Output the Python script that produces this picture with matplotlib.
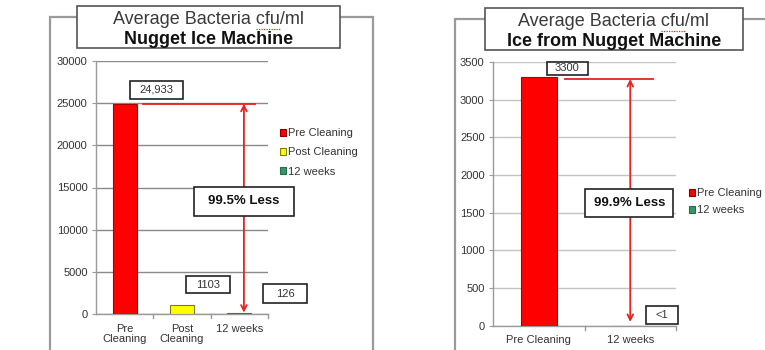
import matplotlib
matplotlib.use("Agg")
import matplotlib.pyplot as plt
from matplotlib.patches import Rectangle, Patch

plt.rcParams['font.family'] = ['Liberation Sans', 'DejaVu Sans']

# Nugget ice machine (left panel)
machine_categories = ["Pre\nCleaning", "Post\nCleaning", "12 weeks"]
machine_series = ["Pre Cleaning", "Post Cleaning", "12 weeks"]
machine_values = [24933, 1103, 126]
machine_labels = ["24,933", "1103", "126"]
machine_yticks = [0, 5000, 10000, 15000, 20000, 25000, 30000]
machine_reduction = "99.5% Less"

# Ice from nugget machine (right panel)
ice_categories = ["Pre Cleaning", "12 weeks"]
ice_series = ["Pre Cleaning", "12 weeks"]
ice_values = [3300, 0.5]
ice_labels = ["3300", "<1"]
ice_yticks = [0, 500, 1000, 1500, 2000, 2500, 3000, 3500]
ice_reduction = "99.9% Less"

RED = "#FF0000"
YELLOW = "#FFFF00"
GREEN = "#339966"
ARROW = "#E8221E"
TXT = "#333333"

W, H = 765, 350
fig = plt.figure(figsize=(W / 100, H / 100), dpi=100)
renderer = fig.canvas.get_renderer()


def px_rect(x0, y0, x1, y1):
    """Pixel box (top-left origin) -> figure fraction rect."""
    return [x0 / W, 1 - y1 / H, (x1 - x0) / W, (y1 - y0) / H]


def frame(x0, y0, x1, y1):
    fig.patches.append(Rectangle((x0 / W, 1 - y1 / H), (x1 - x0) / W, (y1 - y0) / H,
                                 transform=fig.transFigure, fill=False,
                                 edgecolor="#9a9a9a", linewidth=1.6, clip_on=False))


def title_box(x0, y0, x1, y1, line2):
    fig.patches.append(Rectangle((x0 / W, 1 - y1 / H), (x1 - x0) / W, (y1 - y0) / H,
                                 transform=fig.transFigure, facecolor="white",
                                 edgecolor="#555555", linewidth=1.2, zorder=3))
    cx = (x0 + x1) / 2
    line1 = "Average Bacteria cfu/ml"
    t1 = fig.text(cx / W, 1 - (y0 + 14) / H, line1, ha="center", va="center",
                  fontsize=13, color="#3a3a3a", zorder=4)
    fig.text(cx / W, 1 - (y0 + 33) / H, line2, ha="center", va="center",
             fontsize=13, fontweight="bold", color="#111111", zorder=4)
    # spell-check squiggle under "cfu"
    full = t1.get_window_extent(renderer)
    pre = fig.text(0, 0, "Average Bacteria ", fontsize=13)
    cfu = fig.text(0, 0, "cfu", fontsize=13)
    wpre = pre.get_window_extent(renderer).width
    wcfu = cfu.get_window_extent(renderer).width
    pre.remove()
    cfu.remove()
    sx0 = full.x0 + wpre
    sy = full.y0
    fig.lines.append(plt.Line2D([sx0 / W, (sx0 + wcfu) / W], [sy / H, sy / H],
                                transform=fig.transFigure, color="#dd3333",
                                linewidth=0.9, linestyle=(0, (1, 1)), zorder=5))


def style_axes(ax, ticks, grid_color):
    ax.set_yticks(ticks)
    ax.set_ylim(ticks[0], ticks[-1])
    ax.yaxis.grid(True, color=grid_color, linewidth=1.0)
    ax.set_axisbelow(True)
    for s in ("top", "right"):
        ax.spines[s].set_visible(False)
    for s in ("left", "bottom"):
        ax.spines[s].set_color("#9a9a9a")
        ax.spines[s].set_linewidth(1.0)
    ax.tick_params(axis="y", labelsize=8, colors=TXT, length=3, color="#9a9a9a", pad=3)
    ax.tick_params(axis="x", labelsize=8, colors=TXT, length=0, pad=7)


def box_label(ax, x, y, s, w, h, bold=False, size=8):
    """Boxed text centred on data point (x, y); box size given in pixels."""
    cx, cy = ax.transData.transform((x, y))
    fig.patches.append(Rectangle(((cx - w / 2) / W, (cy - h / 2) / H), w / W, h / H,
                                 transform=fig.transFigure, facecolor="white",
                                 edgecolor="#222222", linewidth=1.2, zorder=6))
    fig.text(cx / W, cy / H, s, ha="center", va="center", fontsize=size,
             color="#111111" if bold else TXT, fontweight="bold" if bold else "normal", zorder=7)


def reduction_arrow(ax, x, x0, x1, top, bottom):
    ax.plot([x0, x1], [top, top], color=ARROW, linewidth=1.3, zorder=5, clip_on=False)
    ax.annotate("", xy=(x, top), xytext=(x, bottom),
                arrowprops=dict(arrowstyle="<->", color=ARROW, linewidth=1.3,
                                mutation_scale=10, shrinkA=0, shrinkB=0), zorder=5)


# ---------------- left panel ----------------
frame(50, 17, 373, 360)
axL = fig.add_axes(px_rect(96, 61, 268, 314))
xs = range(len(machine_values))
axL.bar(xs, machine_values, width=0.42, color=[RED, YELLOW, GREEN],
        edgecolor=["#AA0000", "#808000", "#556655"], linewidth=0.8, zorder=3)
axL.set_xlim(-0.5, 2.5)
axL.set_xticks(list(xs))
axL.set_xticklabels(machine_categories, linespacing=1.05)
style_axes(axL, machine_yticks, "#8a8a8a")
for b in (0.5, 1.5, 2.5):
    axL.plot([b, b], [0, -500], color="#9a9a9a", linewidth=1, clip_on=False)

reduction_arrow(axL, 2.08, 0.32, 2.27, machine_values[0], 160)
box_label(axL, 0.56, machine_values[0] + 1650, machine_labels[0], 53, 18)
box_label(axL, 1.46, machine_values[1] + 2350, machine_labels[1], 44, 17)
box_label(axL, 2.80, machine_values[2] + 2300, machine_labels[2], 44, 19)
box_label(axL, 2.08, 13340, machine_reduction, 100, 29, bold=True, size=9.5)

handlesL = [Patch(facecolor=c, edgecolor=e, linewidth=0.8) for c, e in
            zip([RED, YELLOW, GREEN], ["#880000", "#808000", "#2a6a4a"])]
axL.legend(handlesL, machine_series, loc="upper left", bbox_to_anchor=(280 / W, 1 - 128 / H),
           bbox_transform=fig.transFigure, frameon=False, fontsize=8, handlelength=0.5,
           handleheight=0.6, handletextpad=0.25, labelspacing=0.85, borderaxespad=0,
           borderpad=0, labelcolor=TXT)

title_box(77, 6, 340, 48, "Nugget Ice Machine")

# ---------------- right panel ----------------
frame(455, 19, 800, 360)
axR = fig.add_axes(px_rect(493, 62, 676, 325.7))
xr = range(len(ice_values))
axR.bar(xr, ice_values, width=0.39, color=[RED, GREEN], edgecolor=["#AA0000", "#556655"],
        linewidth=0.8, zorder=3)
axR.set_xlim(-0.5, 1.5)
axR.set_xticks(list(xr))
axR.set_xticklabels(ice_categories)
style_axes(axR, ice_yticks, "#c4c4c4")
for b in (0.5, 1.5):
    axR.plot([b, b], [0, -60], color="#9a9a9a", linewidth=1, clip_on=False)

reduction_arrow(axR, 1.0, 0.29, 1.25, 3274, 50)
box_label(axR, 0.31, ice_values[0] + 115, ice_labels[0], 41, 13)
box_label(axR, 1.35, 142, ice_labels[1], 32, 18)
box_label(axR, 0.99, 1628, ice_reduction, 88, 28, bold=True, size=9.5)

handlesR = [Patch(facecolor=c, edgecolor=e, linewidth=0.8) for c, e in
            zip([RED, GREEN], ["#880000", "#2a6a4a"])]
axR.legend(handlesR, ice_series, loc="upper left", bbox_to_anchor=(689 / W, 1 - 188 / H),
           bbox_transform=fig.transFigure, frameon=False, fontsize=8, handlelength=0.5,
           handleheight=0.6, handletextpad=0.25, labelspacing=0.65, borderaxespad=0,
           borderpad=0, labelcolor=TXT)

title_box(485, 8, 743, 50, "Ice from Nugget Machine")

fig.savefig("out.png", dpi=100, facecolor="white")
